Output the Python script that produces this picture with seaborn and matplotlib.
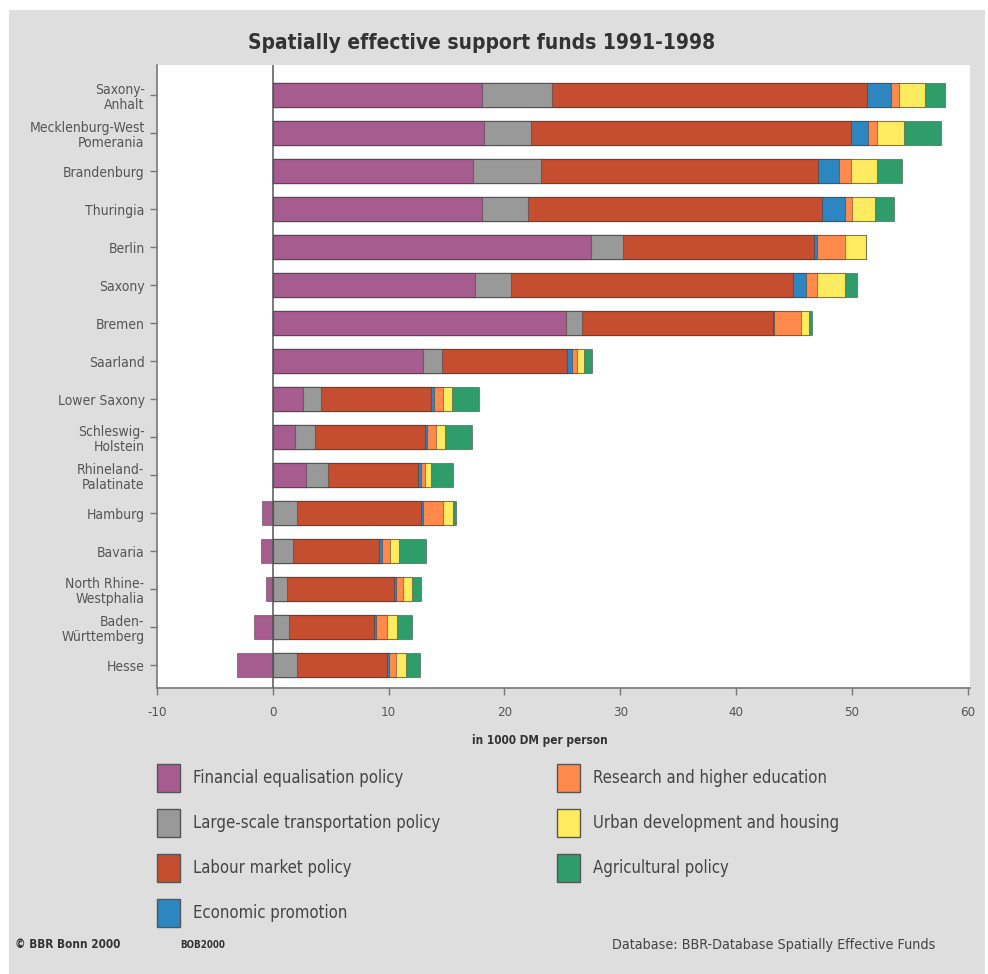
import pandas as pd
import matplotlib.pyplot as plt
from matplotlib.patches import Patch, Rectangle
import seaborn as sns

# %% data (1000 DM per person, 1991-1998)
states = ['Saxony-\nAnhalt', 'Mecklenburg-West\nPomerania', 'Brandenburg', 'Thuringia', 'Berlin',
          'Saxony', 'Bremen', 'Saarland', 'Lower Saxony', 'Schleswig-\nHolstein',
          'Rhineland-\nPalatinate', 'Hamburg', 'Bavaria', 'North Rhine-\nWestphalia',
          'Baden-\nWürttemberg', 'Hesse']

financial = [18.1, 18.2, 17.3, 18.1, 27.5, 17.5, 25.3, 13.0, 2.6, 1.9, 2.9, -0.9, -1.0, -0.6, -1.6, -3.1]
transport = [6.0, 4.1, 5.9, 3.9, 2.7, 3.1, 1.4, 1.6, 1.6, 1.7, 1.9, 2.1, 1.7, 1.2, 1.4, 2.1]
labour    = [27.2, 27.6, 23.9, 25.4, 16.5, 24.3, 16.5, 10.8, 9.5, 9.5, 7.7, 10.7, 7.5, 9.3, 7.3, 7.8]
economic  = [2.1, 1.5, 1.8, 2.0, 0.3, 1.1, 0.1, 0.4, 0.2, 0.2, 0.3, 0.2, 0.2, 0.1, 0.2, 0.1]
research  = [0.7, 0.8, 1.0, 0.6, 2.4, 1.0, 2.3, 0.5, 0.8, 0.8, 0.3, 1.7, 0.7, 0.6, 1.0, 0.6]
urban     = [2.2, 2.3, 2.3, 2.0, 1.8, 2.4, 0.7, 0.6, 0.8, 0.8, 0.6, 0.9, 0.8, 0.8, 0.8, 0.9]
agri      = [1.7, 3.2, 2.1, 1.6, 0.0, 1.0, 0.3, 0.7, 2.3, 2.3, 1.9, 0.2, 2.3, 0.8, 1.3, 1.2]

policies = ['Financial equalisation policy', 'Large-scale transportation policy', 'Labour market policy',
            'Economic promotion', 'Research and higher education', 'Urban development and housing',
            'Agricultural policy']
colors = ['#a65c8e', '#999999', '#c44e2f', '#2e86c1', '#ff8a4c', '#ffeb5f', '#2e9d6a']

df = pd.DataFrame({'state': states, policies[0]: financial, policies[1]: transport,
                   policies[2]: labour, policies[3]: economic, policies[4]: research,
                   policies[5]: urban, policies[6]: agri})

# positive parts stack from max(financial, 0); negative financial goes left of 0
cum = df[policies[0]].clip(lower=0)
for p in policies[1:]:
    cum = cum + df[p]
    df[p + '_end'] = cum

# %% plot
sns.set_theme(style='white')
plt.rcParams['font.family'] = ['DejaVu Sans']
plt.rcParams['font.stretch'] = 'condensed'
plt.rcParams['axes.unicode_minus'] = False

fig = plt.figure(figsize=(9.88, 9.74), dpi=100)
fig.patch.set_facecolor('white')
fig.patches.append(Rectangle((9 / 988, 0), 976 / 988, 1 - 10 / 974, transform=fig.transFigure,
                             facecolor='#dedede', edgecolor='none', zorder=-10))
ax = fig.add_axes([157 / 988, 1 - 688 / 974, 813 / 988, 623 / 974])
ax.set_facecolor('white')

edge = (0.2, 0.2, 0.2, 0.45)
for p, c in zip(reversed(policies[1:]), reversed(colors[1:])):
    sns.barplot(data=df, x=p + '_end', y='state', orient='h', color=c, saturation=1,
                width=0.62, errorbar=None, edgecolor=edge, linewidth=0.8, ax=ax)
sns.barplot(data=df, x=policies[0], y='state', orient='h', color=colors[0], saturation=1,
            width=0.62, errorbar=None, edgecolor=edge, linewidth=0.8, ax=ax)

ax.axvline(0, color='#555555', lw=1.1, zorder=5)
ax.set_xlim(-10, 60.2)
ax.set_ylim(15.6, -0.79)
ax.set_xticks(range(-10, 61, 10))
ax.set_ylabel(None)
ax.set_xlabel('in 1000 DM per person', fontsize=8.5, fontweight='bold', color='#333333')
ax.xaxis.set_label_coords(383 / 813, -46 / 623)

for s in ['top', 'right']:
    ax.spines[s].set_visible(False)
for s in ['left', 'bottom']:
    ax.spines[s].set_color('#777777')
    ax.spines[s].set_linewidth(1.2)
ax.tick_params(axis='y', length=5, width=1, color='#777777', labelsize=10, labelcolor='#555555',
               pad=4, left=True)
ax.tick_params(axis='x', length=5, width=1, color='#777777', labelsize=9.5, labelcolor='#555555',
               pad=8, bottom=True)
for lbl in ax.get_yticklabels():
    lbl.set_linespacing(1.15)

fig.text(482 / 988, 1 - 43 / 974, 'Spatially effective support funds 1991-1998',
         ha='center', va='center', fontsize=15, fontweight='bold', color='#333333')

handles = [Patch(facecolor=c, edgecolor='#555555', linewidth=1) for c in colors]
kw = dict(frameon=False, fontsize=12, handlelength=1.38, handleheight=2.2, handletextpad=0.78,
          labelspacing=1.02, borderpad=0, borderaxespad=0, labelcolor='#444444', loc='upper left')
fig.legend(handles[:4], policies[:4], bbox_to_anchor=(157 / 988, 1 - 764 / 974), **kw)
fig.legend(handles[4:], policies[4:], bbox_to_anchor=(557 / 988, 1 - 764 / 974), **kw)

fig.text(15 / 988, 1 - 945 / 974, '© BBR Bonn 2000', fontsize=8.5, fontweight='bold',
         color='#333333', va='center')
fig.text(180 / 988, 1 - 945 / 974, 'BOB2000', fontsize=7, fontweight='bold',
         color='#333333', va='center')
fig.text(935 / 988, 1 - 945 / 974, 'Database: BBR-Database Spatially Effective Funds',
         fontsize=10.3, color='#444444', va='center', ha='right')

plt.savefig('out.png', dpi=100)
